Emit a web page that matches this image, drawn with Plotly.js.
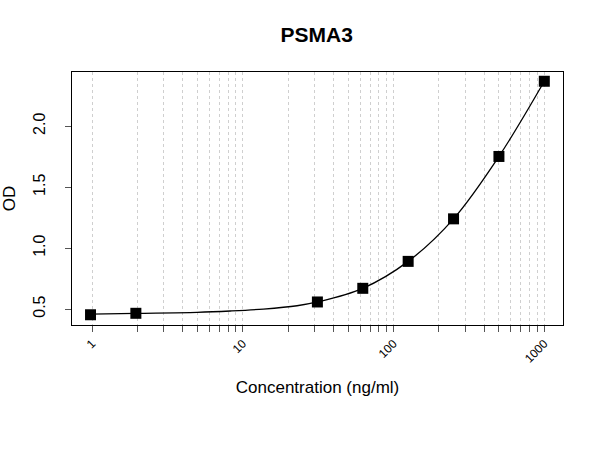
<!DOCTYPE html>
<html>
<head>
<meta charset="utf-8">
<script src="https://cdn.plot.ly/plotly-3.0.1.min.js"></script>
<style>
  html, body { margin: 0; padding: 0; background: #fff; }
  #chart { width: 600px; height: 450px; }
</style>
</head>
<body>
<div id="chart"></div>
<script>
// Standard concentrations (ng/ml) and measured optical density
const concentration = [0.977, 1.953, 31.25, 62.5, 125, 250, 500, 1000];
const od = [0.453, 0.465, 0.558, 0.670, 0.891, 1.240, 1.752, 2.369];

// Fitted standard curve, sampled along the concentration range
const fitConcentration = [0.977, 1.953, 4.97, 8.26, 13.7, 22.9, 31.25, 62.5, 125, 250, 500, 1000];
const fitOD = [0.459, 0.465, 0.473, 0.484, 0.500, 0.527, 0.558, 0.670, 0.891, 1.240, 1.752, 2.369];

// Log-scale grid positions and their labels
const gridValues = [];
const gridLabels = [];
[1, 10, 100].forEach(decade => {
  for (let m = 1; m <= 9; m++) {
    gridValues.push(decade * m);
    gridLabels.push(m === 1 ? String(decade) : '');
  }
});
gridValues.push(1000);
gridLabels.push('1000');

const yTicks = [0.5, 1.0, 1.5, 2.0];
const yTickLabels = ['0.5', '1.0', '1.5', '2.0'];

const FONT = 'Liberation Sans, Arial, Helvetica, sans-serif';

const traces = [
  {
    x: fitConcentration,
    y: fitOD,
    type: 'scatter',
    mode: 'lines',
    line: { color: '#000', width: 1.3, shape: 'spline', smoothing: 1 },
    hoverinfo: 'skip',
    showlegend: false
  },
  {
    x: concentration,
    y: od,
    type: 'scatter',
    mode: 'markers',
    marker: { symbol: 'square', size: 11, color: '#000' },
    showlegend: false
  }
];

const layout = {
  width: 600,
  height: 450,
  paper_bgcolor: '#fff',
  plot_bgcolor: '#fff',
  margin: { l: 72, r: 37, t: 72, b: 125 },
  font: { family: FONT, color: '#000' },
  title: {
    text: '<b>PSMA3</b>',
    font: { family: FONT, size: 21, color: '#000' },
    x: 0.528,
    xanchor: 'center',
    y: 0.922,
    yanchor: 'middle'
  },
  xaxis: {
    type: 'log',
    range: [-0.133, 3.124],
    tickmode: 'array',
    tickvals: gridValues,
    ticktext: gridLabels,
    tickangle: -45,
    tickfont: { family: FONT, size: 12, color: '#000' },
    ticks: 'outside',
    ticklen: 6,
    tickcolor: '#555',
    showgrid: true,
    gridcolor: '#cfcfcf',
    griddash: 'dot',
    gridwidth: 1,
    zeroline: false,
    showline: true,
    mirror: true,
    linecolor: '#000',
    linewidth: 1,
    automargin: false,
    title: {
      text: 'Concentration (ng/ml)',
      font: { family: FONT, size: 17, color: '#000' },
      standoff: 16
    }
  },
  yaxis: {
    range: [0.369, 2.445],
    tickmode: 'array',
    tickvals: yTicks,
    ticktext: yTickLabels,
    tickangle: -90,
    tickfont: { family: FONT, size: 16, color: '#000' },
    ticks: 'outside',
    ticklen: 6,
    tickcolor: '#555',
    ticklabelstandoff: 14,
    showgrid: false,
    zeroline: false,
    showline: true,
    mirror: true,
    linecolor: '#000',
    linewidth: 1,
    automargin: false,
    title: {
      text: 'OD',
      font: { family: FONT, size: 17, color: '#000' },
      standoff: 12
    }
  }
};

Plotly.newPlot('chart', traces, layout, { displayModeBar: false, staticPlot: true });
</script>
</body>
</html>
